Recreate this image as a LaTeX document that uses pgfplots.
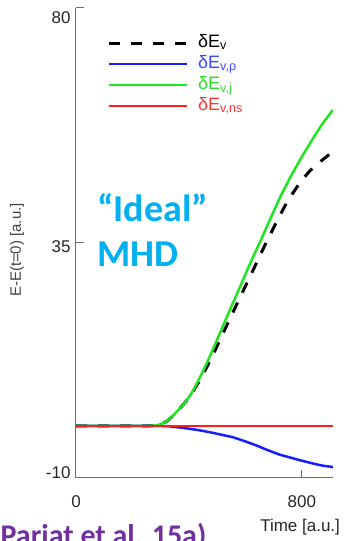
\documentclass[border=0pt]{standalone}
\usepackage{fontspec}
\setmainfont{Liberation Sans}
\newfontfamily\calibri{Carlito}
\usepackage{pgfplots}
\pgfplotsset{compat=1.18}
\definecolor{cblue}{RGB}{20,30,255}
\definecolor{cgreen}{RGB}{30,230,30}
\definecolor{cred}{RGB}{255,30,30}
\definecolor{tblue}{RGB}{60,70,255}
\definecolor{tgreen}{RGB}{40,225,40}
\definecolor{tred}{RGB}{255,50,50}
\definecolor{axgray}{RGB}{110,110,110}
\definecolor{idealblue}{RGB}{0,176,240}
\definecolor{ppurple}{RGB}{112,48,160}
\begin{document}
\begin{tikzpicture}
\path[use as bounding box] (0pt,0pt) rectangle (347pt,541pt);
\clip (0pt,0pt) rectangle (347pt,541pt);
\begin{axis}[
  at={(76pt,63pt)}, anchor=south west, scale only axis,
  width=257pt, height=470pt,
  xmin=0, xmax=910, ymin=-10, ymax=80,
  axis lines*=left,
  axis line style={draw=axgray, line width=1pt, -},
  xtick={0,800}, xticklabels={0,800},
  ytick={-10,35,80},
  yticklabels={\smash{\raisebox{-0.3pt}{-10}},\smash{\raisebox{-9.3pt}{35}},\smash{\raisebox{-15.3pt}{80}}},
  tick align=inside, major tick length=8pt,
  tick style={draw=axgray, line width=1pt},
  ticklabel style={font=\fontsize{17}{20}\selectfont, text=black!85},
  yticklabel style={xshift=-2pt},
  xticklabel style={yshift=-14pt},
  xlabel={Time [a.u.]},
  xlabel style={at={(axis description cs:0.872,-0.104)}, anchor=center, font=\fontsize{17}{20}\selectfont, text=black!85},
  ylabel={E-E(t=0) [a.u.]},
  ylabel style={at={(axis description cs:-0.2296,0.485)}, anchor=center, font=\fontsize{15}{18}\selectfont, text=black!75},
  legend style={draw=none, fill=none, at={(axis description cs:0.1206,0.945)}, anchor=north west,
    inner sep=0pt, row sep=3pt, font=\fontsize{18}{20}\selectfont,
    nodes={inner sep=0pt, text height=13pt, text depth=5pt}},
  legend cell align=left,
  legend image code/.code={\draw[#1] (0pt,0pt) -- (78pt,0pt); \path (88pt,0pt);},
]
\addplot[black, line width=3pt, dash pattern=on 11pt off 11pt, smooth, tension=0.3] coordinates {
(0,0) (260,0) (285,0.1) (305,0.4) (325,1.0) (345,2.0) (365,3.2) (385,4.4) (404,5.7)
(420,7.1) (440,8.9) (457,10.6) (474,12.4) (492,14.4) (510,16.5) (545,20.5) (580,24.5)
(620,29.0) (662,33.8) (705,38.5) (747,42.8) (790,46.3) (828,48.8) (870,50.8) (910,52.5)};
\addlegendentry{\textcolor{black}{δE\textsubscript{v}}}
\addplot[cblue, line width=2.5pt, smooth, tension=0.3] coordinates {
(0,0) (270,0) (300,-0.03) (330,-0.1) (355,-0.25) (379,-0.4) (430,-0.8) (480,-1.3)
(530,-1.9) (556,-2.2) (600,-3.0) (640,-3.8) (676,-4.6) (720,-5.5) (760,-6.1)
(793,-6.6) (830,-7.1) (870,-7.6) (910,-7.9)};
\addlegendentry{\textcolor{tblue}{δE\textsubscript{v,ρ}}}
\addplot[cgreen, line width=2.5pt, smooth, tension=0.3] coordinates {
(0,0) (260,0) (285,0.1) (305,0.4) (325,1.0) (345,2.0) (365,3.2) (385,4.4) (404,5.8)
(420,7.3) (440,9.4) (457,11.3) (474,13.3) (492,15.5) (510,17.8) (545,22.2) (580,26.5)
(620,31.5) (650,35.0) (687,39.5) (725,44.0) (768,48.5) (805,52.0) (839,55.0)
(875,58.0) (910,60.5)};
\addlegendentry{\textcolor{tgreen}{δE\textsubscript{v,j}}}
\addplot[cred, line width=2.5pt] coordinates {(0,0) (910,0)};
\addlegendentry{\textcolor{tred}{δE\textsubscript{v,ns}}}
\end{axis}
\node[anchor=base west, inner sep=0pt, text=idealblue, font=\calibri\bfseries\fontsize{38}{45}\selectfont] at (97pt,319pt) {“Ideal”};
\node[anchor=base west, inner sep=0pt, text=idealblue, font=\calibri\bfseries\fontsize{38}{45}\selectfont] at (97pt,274pt) {MHD};
\node[anchor=base west, inner sep=0pt, text=ppurple, font=\calibri\bfseries\fontsize{30}{32}\selectfont] at (-9pt,-5pt) {(Pariat et al. 15a)};
\end{tikzpicture}
\end{document}
